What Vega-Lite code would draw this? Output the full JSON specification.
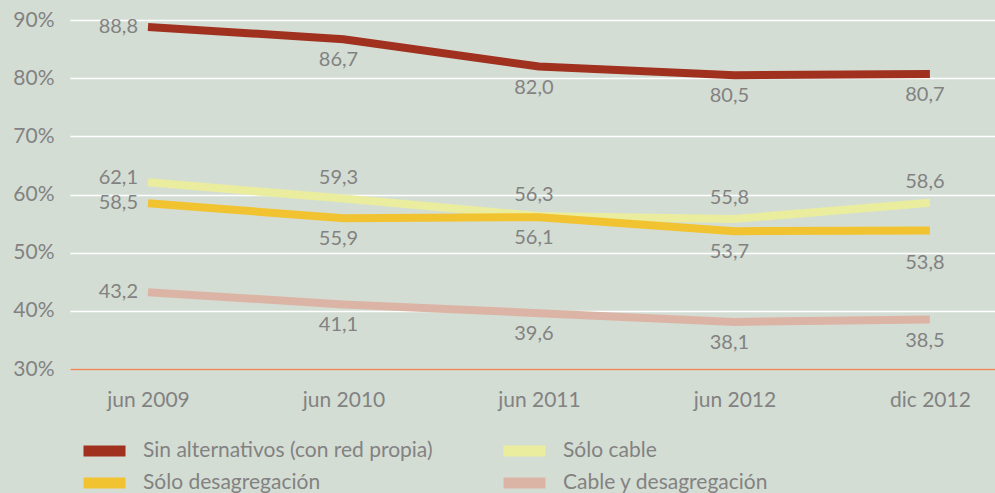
{
  "$schema": "https://vega.github.io/schema/vega-lite/v6.json",
  "autosize": "none",
  "width": 925,
  "height": 349,
  "padding": {"left": 70, "top": 20, "right": 0, "bottom": 124},
  "background": "#d4ddd4",
  "config": {
    "view": {"stroke": null},
    "font": "Lato",
    "locale": {"number": {"decimal": ",", "thousands": ".", "grouping": [3], "currency": ["", " €"]}}
  },
  "data": {
    "values": [
      {"periodo": "jun 2009", "serie": "Sin alternativos (con red propia)", "valor": 88.8},
      {"periodo": "jun 2010", "serie": "Sin alternativos (con red propia)", "valor": 86.7},
      {"periodo": "jun 2011", "serie": "Sin alternativos (con red propia)", "valor": 82.0},
      {"periodo": "jun 2012", "serie": "Sin alternativos (con red propia)", "valor": 80.5},
      {"periodo": "dic 2012", "serie": "Sin alternativos (con red propia)", "valor": 80.7},
      {"periodo": "jun 2009", "serie": "Sólo cable", "valor": 62.1},
      {"periodo": "jun 2010", "serie": "Sólo cable", "valor": 59.3},
      {"periodo": "jun 2011", "serie": "Sólo cable", "valor": 56.3},
      {"periodo": "jun 2012", "serie": "Sólo cable", "valor": 55.8},
      {"periodo": "dic 2012", "serie": "Sólo cable", "valor": 58.6},
      {"periodo": "jun 2009", "serie": "Sólo desagregación", "valor": 58.5},
      {"periodo": "jun 2010", "serie": "Sólo desagregación", "valor": 55.9},
      {"periodo": "jun 2011", "serie": "Sólo desagregación", "valor": 56.1},
      {"periodo": "jun 2012", "serie": "Sólo desagregación", "valor": 53.7},
      {"periodo": "dic 2012", "serie": "Sólo desagregación", "valor": 53.8},
      {"periodo": "jun 2009", "serie": "Cable y desagregación", "valor": 43.2},
      {"periodo": "jun 2010", "serie": "Cable y desagregación", "valor": 41.1},
      {"periodo": "jun 2011", "serie": "Cable y desagregación", "valor": 39.6},
      {"periodo": "jun 2012", "serie": "Cable y desagregación", "valor": 38.1},
      {"periodo": "dic 2012", "serie": "Cable y desagregación", "valor": 38.5}
    ]
  },
  "encoding": {
    "x": {
      "field": "periodo",
      "type": "ordinal",
      "sort": ["jun 2009", "jun 2010", "jun 2011", "jun 2012", "dic 2012"],
      "scale": {"type": "point", "padding": 0.366, "align": 0.545},
      "axis": {
        "title": null,
        "labelAngle": 0,
        "labelFontSize": 21,
        "labelColor": "#828282",
        "labelPadding": 20,
        "ticks": false,
        "domainColor": "#e8875a",
        "domainWidth": 1.5,
        "grid": false
      }
    },
    "y": {
      "field": "valor",
      "type": "quantitative",
      "scale": {"domain": [30, 90], "nice": false, "zero": false},
      "axis": {
        "title": null,
        "values": [30, 40, 50, 60, 70, 80, 90],
        "labelExpr": "datum.value + '%'",
        "labelFontSize": 21,
        "labelColor": "#828282",
        "labelPadding": 16,
        "ticks": false,
        "domain": false,
        "gridColor": "#ffffff",
        "gridWidth": 1.5,
        "gridOpacity": 1
      }
    }
  },
  "layer": [
    {
      "mark": {"type": "line", "strokeWidth": 8, "strokeCap": "butt", "strokeJoin": "miter"},
      "encoding": {
        "color": {
          "field": "serie",
          "type": "nominal",
          "scale": {
            "domain": ["Sin alternativos (con red propia)", "Sólo cable", "Sólo desagregación", "Cable y desagregación"],
            "range": ["#a0311f", "#eaed9e", "#f2c330", "#dcb4a5"]
          },
          "legend": {
            "title": null,
            "orient": "none",
            "legendX": 8,
            "legendY": 416,
            "columns": 2,
            "direction": "horizontal",
            "symbolType": "stroke",
            "symbolSize": 1764,
            "symbolStrokeWidth": 11,
            "symbolOpacity": 1,
            "clipHeight": 30,
            "rowPadding": 2,
            "columnPadding": 65,
            "labelOffset": 12,
            "labelFontSize": 21,
            "labelColor": "#828282",
            "labelLimit": 400,
            "padding": 0
          }
        }
      }
    },
    {
      "transform": [{"filter": "datum.periodo === 'jun 2009' && datum.serie !== 'Sólo cable'"}],
      "mark": {"type": "text", "align": "right", "baseline": "middle", "dx": -10, "fontSize": 20, "color": "#828282"},
      "encoding": {"text": {"field": "valor", "type": "quantitative", "format": ".1f"}}
    },
    {
      "transform": [{"filter": "datum.periodo === 'jun 2009' && datum.serie === 'Sólo cable'"}],
      "mark": {"type": "text", "align": "right", "baseline": "middle", "dx": -10, "dy": -4, "fontSize": 20, "color": "#828282"},
      "encoding": {"text": {"field": "valor", "type": "quantitative", "format": ".1f"}}
    },
    {
      "transform": [{"filter": "datum.periodo !== 'jun 2009' && datum.serie === 'Sólo cable'"}],
      "mark": {"type": "text", "align": "center", "baseline": "middle", "dx": -5, "dy": -21, "fontSize": 20, "color": "#828282"},
      "encoding": {"text": {"field": "valor", "type": "quantitative", "format": ".1f"}}
    },
    {
      "transform": [{"filter": "datum.periodo !== 'jun 2009' && datum.serie !== 'Sólo cable' && !(datum.periodo === 'dic 2012' && datum.serie === 'Sólo desagregación')"}],
      "mark": {"type": "text", "align": "center", "baseline": "middle", "dx": -5, "dy": 21, "fontSize": 20, "color": "#828282"},
      "encoding": {"text": {"field": "valor", "type": "quantitative", "format": ".1f"}}
    },
    {
      "transform": [{"filter": "datum.periodo === 'dic 2012' && datum.serie === 'Sólo desagregación'"}],
      "mark": {"type": "text", "align": "center", "baseline": "middle", "dx": -5, "dy": 32, "fontSize": 20, "color": "#828282"},
      "encoding": {"text": {"field": "valor", "type": "quantitative", "format": ".1f"}}
    }
  ]
}
